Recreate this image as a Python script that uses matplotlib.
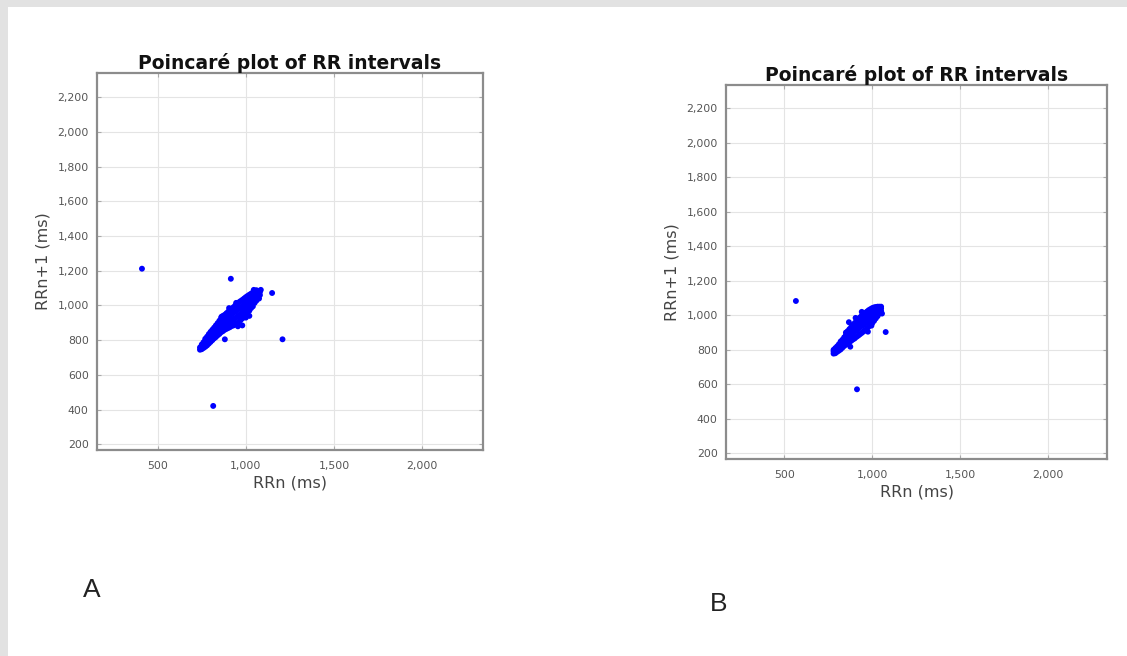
import matplotlib
matplotlib.use("Agg")
import matplotlib.pyplot as plt
from matplotlib.patches import Rectangle
from matplotlib.ticker import FuncFormatter

# ---------------- data ----------------
title = "Poincaré plot of RR intervals"
xlabel = "RRn (ms)"
ylabel = "RRn+1 (ms)"
x_ticks = [500, 1000, 1500, 2000]
y_ticks = [200, 400, 600, 800, 1000, 1200, 1400, 1600, 1800, 2000, 2200]
panel_labels = ["A", "B"]

# Panel A: (RRn, RRn+1) pairs in ms
a_points = [
    (740, 745), (740, 758),
    (750, 748), (750, 762), (750, 775),
    (760, 755), (760, 770), (760, 788),
    (770, 762), (770, 780), (770, 798), (770, 808),
    (780, 770), (780, 790), (780, 808), (780, 820),
    (790, 780), (790, 800), (790, 818), (790, 835),
    (800, 790), (800, 810), (800, 830), (800, 848),
    (810, 800), (810, 822), (810, 842), (810, 860),
    (820, 810), (820, 832), (820, 855), (820, 872),
    (830, 818), (830, 842), (830, 865), (830, 885),
    (840, 828), (840, 852), (840, 876), (840, 898),
    (850, 836), (850, 862), (850, 888), (850, 912),
    (860, 846), (860, 872), (860, 900), (860, 928),
    (870, 852), (870, 880), (870, 910), (870, 940),
    (880, 860), (880, 890), (880, 920), (880, 946),
    (890, 865), (890, 895), (890, 928), (890, 955),
    (900, 870), (900, 902), (900, 935), (900, 964),
    (910, 875), (910, 908), (910, 942), (910, 972),
    (920, 882), (920, 915), (920, 950), (920, 982),
    (930, 885), (930, 920), (930, 958), (930, 990),
    (940, 892), (940, 928), (940, 965), (940, 1000),
    (950, 898), (950, 935), (950, 972), (950, 1010),
    (960, 906), (960, 942), (960, 980), (960, 1018),
    (970, 915), (970, 950), (970, 988), (970, 1025),
    (980, 925), (980, 960), (980, 996), (980, 1032),
    (990, 935), (990, 970), (990, 1005), (990, 1040),
    (1000, 945), (1000, 980), (1000, 1015), (1000, 1048),
    (1010, 960), (1010, 992), (1010, 1024), (1010, 1055),
    (1020, 970), (1020, 1002), (1020, 1034), (1020, 1062),
    (1030, 985), (1030, 1014), (1030, 1044), (1030, 1068),
    (1040, 995), (1040, 1025), (1040, 1052), (1040, 1075),
    (1050, 1015), (1050, 1040), (1050, 1062), (1050, 1080),
    (1060, 1028), (1060, 1050), (1060, 1072), (1060, 1088),
    (1070, 1045), (1070, 1065), (1070, 1082),
    (1080, 1060), (1080, 1078), (1085, 1090),
    (1020, 940), (980, 885), (862, 935), (905, 985), (945, 1015),
    (1045, 1090), (1075, 1040), (1000, 930), (835, 885), (955, 880),
    # isolated beats
    (411, 1212), (915, 1154), (1149, 1072), (1208, 805), (815, 421), (881, 805),
]

# Panel B: (RRn, RRn+1) pairs in ms
b_points = [
    (780, 778), (780, 790), (780, 800),
    (790, 780), (790, 795), (790, 810),
    (800, 788), (800, 805), (800, 820),
    (810, 795), (810, 815), (810, 832),
    (820, 802), (820, 825), (820, 848),
    (830, 812), (830, 835), (830, 858),
    (840, 822), (840, 848), (840, 872),
    (850, 830), (850, 858), (850, 885),
    (860, 838), (860, 868), (860, 895), (860, 908),
    (870, 845), (870, 878), (870, 905), (870, 920),
    (880, 852), (880, 888), (880, 915), (880, 932),
    (890, 860), (890, 895), (890, 925), (890, 945),
    (900, 866), (900, 905), (900, 935), (900, 955),
    (910, 875), (910, 912), (910, 945), (910, 968),
    (920, 882), (920, 920), (920, 955), (920, 978),
    (930, 890), (930, 930), (930, 962), (930, 988),
    (940, 898), (940, 938), (940, 972), (940, 998),
    (950, 906), (950, 946), (950, 980), (950, 1006),
    (960, 915), (960, 955), (960, 990), (960, 1014),
    (970, 925), (970, 962), (970, 996), (970, 1022),
    (980, 935), (980, 972), (980, 1005), (980, 1030),
    (990, 945), (990, 980), (990, 1012), (990, 1036),
    (1000, 955), (1000, 990), (1000, 1020), (1000, 1042),
    (1010, 968), (1010, 1000), (1010, 1028), (1010, 1046),
    (1020, 982), (1020, 1010), (1020, 1034), (1020, 1048),
    (1030, 995), (1030, 1020), (1030, 1040), (1030, 1050),
    (1040, 1010), (1040, 1030), (1040, 1046), (1040, 1050),
    (1050, 1025), (1050, 1040), (1050, 1050),
    (975, 905), (905, 985), (940, 1020), (1055, 1010), (850, 900), (995, 940),
    # isolated beats
    (566, 1083), (1076, 903), (913, 571), (867, 960), (875, 818),
]

a_rrn = [p[0] for p in a_points]
a_rrn1 = [p[1] for p in a_points]
b_rrn = [p[0] for p in b_points]
b_rrn1 = [p[1] for p in b_points]

panels = [
    dict(x=a_rrn, y=a_rrn1, rect=[97, 73, 483, 450], xlim=(156, 2345), ylim=(167, 2340),
         label_xy=(92, 590)),
    dict(x=b_rrn, y=b_rrn1, rect=[726, 85, 1107, 459], xlim=(169, 2333), ylim=(167, 2335),
         label_xy=(719, 604)),
]

W, H = 1127, 656
fig = plt.figure(figsize=(W / 100, H / 100), dpi=100)
fig.patch.set_facecolor("#e2e2e2")
fig.patches.append(Rectangle((8 / W, 0), 1, 1 - 7 / H, transform=fig.transFigure,
                             facecolor="white", edgecolor="none", zorder=-10))

fmt = FuncFormatter(lambda v, p: f"{int(v):,}")

for i, p in enumerate(panels):
    l, t, r, b = p["rect"]
    ax = fig.add_axes([l / W, 1 - b / H, (r - l) / W, (b - t) / H])
    ax.scatter(p["x"], p["y"], s=18, c="#0000ff", edgecolors="none", zorder=3)
    ax.set_xlim(*p["xlim"])
    ax.set_ylim(*p["ylim"])
    ax.set_xticks(x_ticks)
    ax.set_yticks(y_ticks)
    ax.xaxis.set_major_formatter(fmt)
    ax.yaxis.set_major_formatter(fmt)
    ax.grid(True, color="#e4e4e4", linewidth=0.8)
    ax.set_axisbelow(True)
    ax.tick_params(direction="in", length=3, width=0.8, color="#aaaaaa",
                   labelsize=7.8, labelcolor="#555555", top=True, right=True)
    ax.tick_params(axis="x", pad=8)
    ax.tick_params(axis="y", pad=6)
    for s in ax.spines.values():
        s.set_color("#8c8c8c")
        s.set_linewidth(1.6)
    ax.set_title(title, fontsize=13.5, fontweight="bold", color="#111111", pad=3)
    ax.set_xlabel(xlabel, fontsize=11.5, color="#444444", labelpad=3)
    ax.set_ylabel(ylabel, fontsize=11.5, color="#444444", labelpad=5)
    lx, ly = p["label_xy"]
    fig.text(lx / W, 1 - ly / H, panel_labels[i], fontsize=19, color="#222222",
             ha="center", va="center", family="Liberation Sans")

fig.savefig("out.png", dpi=100, facecolor=fig.get_facecolor())
